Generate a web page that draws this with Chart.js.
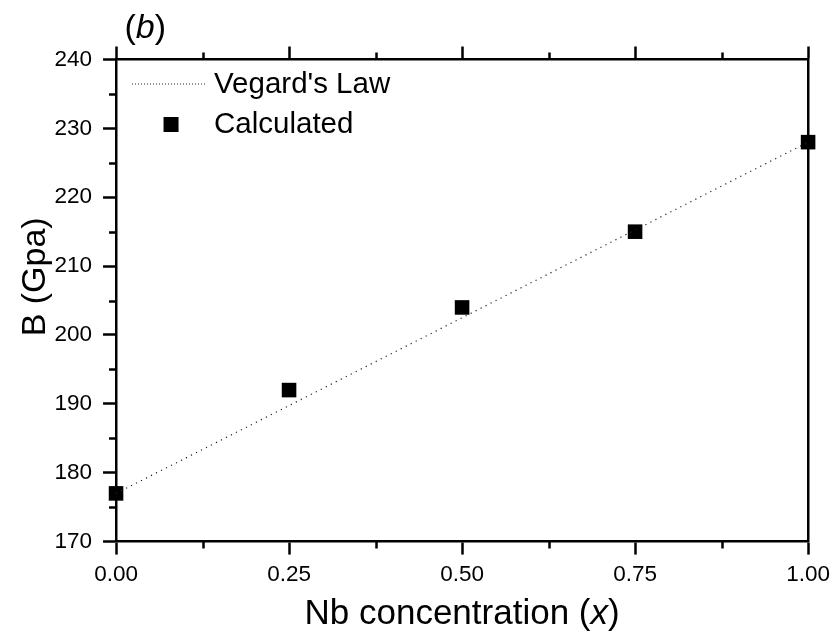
<!DOCTYPE html>
<html>
<head>
<meta charset="utf-8">
<script src="https://cdn.jsdelivr.net/npm/chart.js@4"></script>
<style>
    body { margin: 0; background: #fff; }
    #wrap { width: 837px; height: 637px; }
</style>
</head>
<body>
<div id="wrap"><canvas id="bulkChart" width="837" height="637"></canvas></div>
<script>
// Data
const concentrations = [0.00, 0.25, 0.50, 0.75, 1.00];
const calculatedB = [177, 192, 204, 215, 228];
const vegardX = [0.00, 1.00];
const vegardB = [177, 228];
const xTickStep = 0.25;
const yTickStep = 10;
const xRange = [0, 1];
const yRange = [170, 240];

const FONT = "Arial, 'Liberation Sans', sans-serif";

document.addEventListener('DOMContentLoaded', () => {
    const ctx = document.getElementById('bulkChart').getContext('2d');

    // draw text made of runs, some italic
    function drawRuns(c, runs, x, y, size, align) {
        let total = 0;
        runs.forEach(r => {
            c.font = `${r[1] ? 'italic ' : ''}${size}px ${FONT}`;
            total += c.measureText(r[0]).width;
        });
        let cx = align === 'center' ? x - total / 2 : x;
        c.textAlign = 'left';
        runs.forEach(r => {
            c.font = `${r[1] ? 'italic ' : ''}${size}px ${FONT}`;
            c.fillText(r[0], cx, y);
            cx += c.measureText(r[0]).width;
        });
    }

    // minor ticks, titles, panel label and legend
    const decorations = {
        id: 'decorations',
        afterDraw(chart) {
            const c = chart.ctx;
            const area = chart.chartArea;
            const sx = chart.scales.x, sy = chart.scales.y;
            c.save();
            c.strokeStyle = '#000';
            c.fillStyle = '#000';
            c.lineWidth = 2.5;

            // minor ticks halfway between majors
            const mids = s => s.ticks.slice(1).map((t, i) => (t.value + s.ticks[i].value) / 2);
            c.beginPath();
            mids(sx).forEach(v => {
                const px = Math.round(sx.getPixelForValue(v)) + 0.5;
                c.moveTo(px, area.bottom); c.lineTo(px, area.bottom + 7);
                c.moveTo(px, area.top); c.lineTo(px, area.top - 7);
            });
            mids(sy).forEach(v => {
                const py = Math.round(sy.getPixelForValue(v)) + 0.5;
                c.moveTo(area.left, py); c.lineTo(area.left - 7, py);
            });
            c.stroke();

            // axis titles
            c.textBaseline = 'alphabetic';
            drawRuns(c, [['Nb concentration (', false], ['x', true], [')', false]],
                (area.left + area.right) / 2, area.bottom + 82, 35, 'center');
            c.save();
            c.translate(area.left - 71.5, (area.top + area.bottom) / 2 - 23.7);
            c.rotate(-Math.PI / 2);
            drawRuns(c, [['B (Gpa)', false]], 0, 0, 34, 'center');
            c.restore();

            // panel label
            drawRuns(c, [['(', false], ['b', true], [')', false]], area.left + 8.5, area.top - 22, 34, 'left');

            // legend
            const lineDs = chart.data.datasets[0];
            c.save();
            c.lineWidth = 1;
            c.strokeStyle = lineDs.borderColor;
            c.setLineDash([1, 2]);
            c.beginPath();
            c.moveTo(area.left + 16, area.top + 24.5);
            c.lineTo(area.left + 91, area.top + 24.5);
            c.stroke();
            c.restore();
            c.fillRect(area.left + 47.5, area.top + 57.5, 15, 15);
            c.textBaseline = 'middle';
            drawRuns(c, [["Vegard's Law", false]], area.left + 98, area.top + 25, 29.5, 'left');
            drawRuns(c, [['Calculated', false]], area.left + 98, area.top + 65.5, 29.5, 'left');
            c.restore();
        }
    };

    const axisCommon = {
        border: { color: '#000', width: 2.5 },
        grid: { drawOnChartArea: false, drawTicks: true, tickLength: 13, tickWidth: 2.5, tickColor: '#000' }
    };

    new Chart(ctx, {
        type: 'scatter',
        data: {
            datasets: [{
                label: "Vegard's Law",
                data: vegardX.map((x, i) => ({ x: x, y: vegardB[i] })),
                showLine: true,
                borderColor: '#222',
                borderWidth: 1.2,
                borderDash: [1.2, 4.4],
                pointRadius: 0,
                fill: false,
                clip: false
            }, {
                label: 'Calculated',
                data: concentrations.map((x, i) => ({ x: x, y: calculatedB[i] })),
                pointStyle: 'rect',
                pointRadius: 10.3,
                pointBackgroundColor: '#000',
                pointBorderColor: '#000',
                pointBorderWidth: 0,
                showLine: false,
                clip: false
            }]
        },
        options: {
            responsive: false,
            animation: false,
            events: [],
            layout: { padding: { left: 43.5, right: 28.3, top: 46.5, bottom: 41.4 } },
            plugins: {
                legend: { display: false },
                tooltip: { enabled: false }
            },
            scales: {
                x: {
                    ...axisCommon,
                    type: 'linear',
                    position: 'bottom',
                    min: xRange[0], max: xRange[1],
                    ticks: {
                        stepSize: xTickStep,
                        padding: 7,
                        color: '#000',
                        font: { family: FONT, size: 22.5 },
                        maxRotation: 0,
                        callback: v => v.toFixed(2)
                    }
                },
                x2: {
                    ...axisCommon,
                    type: 'linear',
                    position: 'top',
                    min: xRange[0], max: xRange[1],
                    ticks: { stepSize: xTickStep, display: false }
                },
                y: {
                    ...axisCommon,
                    type: 'linear',
                    position: 'left',
                    min: yRange[0], max: yRange[1],
                    ticks: {
                        stepSize: yTickStep,
                        padding: 11,
                        color: '#000',
                        font: { family: FONT, size: 22.5 }
                    }
                },
                y2: {
                    type: 'linear',
                    position: 'right',
                    min: yRange[0], max: yRange[1],
                    border: { color: '#000', width: 2.5 },
                    grid: { drawOnChartArea: false, drawTicks: false },
                    ticks: { stepSize: yTickStep, display: false }
                }
            }
        },
        plugins: [decorations]
    });
});
</script>
</body>
</html>
